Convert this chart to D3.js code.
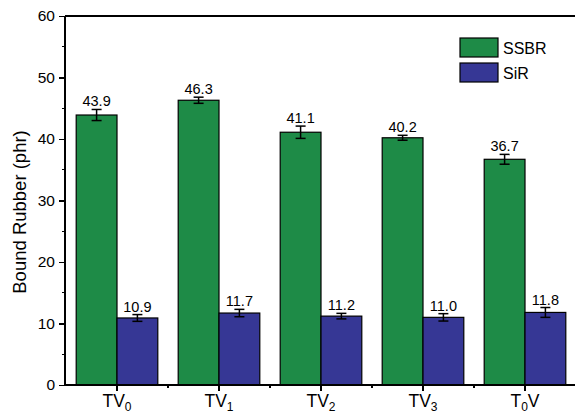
<!DOCTYPE html>
<meta charset="utf-8">
<style>
  body { margin: 0; background: #fff; }
  text { font-family: Arial, "Liberation Sans", sans-serif; fill: #000; }
  .axis path, .axis line { stroke: #000; stroke-width: 1.2px; shape-rendering: crispEdges; }
</style>
<body>
<script src="https://d3js.org/d3.v7.min.js"></script>
<script>

  var categories = ["TV0", "TV1", "TV2", "TV3", "T0V"];
  var labelMain = ["TV", "TV", "TV", "TV", "T"];
  var labelSub = ["0", "1", "2", "3", "0"];
  var labelTail = ["", "", "", "", "V"];
  var series = ["SSBR", "SiR"];
  var ssbr = [43.9, 46.3, 41.1, 40.2, 36.7];
  var ssbrErr = [0.9, 0.5, 1.0, 0.4, 0.8];
  var sir = [10.9, 11.7, 11.2, 11.0, 11.8];
  var sirErr = [0.55, 0.6, 0.45, 0.6, 0.8];
  var colors = ["#1e8b47", "#363795"];
  var yTicks = [0, 10, 20, 30, 40, 50, 60];

  var width = 575, height = 414;
  var margin = { top: 16, left: 65, bottom: 29 };
  var plotRight = 576;

  var svg = d3.select("body").append("svg")
      .attr("width", width)
      .attr("height", height);

  var x = d3.scaleLinear().domain([0.5, 5.5]).range([margin.left + 1, plotRight]);
  var y = d3.scaleLinear().domain([0, 60]).range([height - margin.bottom, margin.top]);
  var bw = x(0.4) - x(0);

  var groups = [
    { vals: ssbr, errs: ssbrErr, off: -1 },
    { vals: sir, errs: sirErr, off: 0 }
  ];

  groups.forEach(function(g, gi) {
    var sel = svg.append("g");
    sel.selectAll("rect")
        .data(g.vals)
      .enter().append("rect")
        .attr("x", function(d, i) { return x(i + 1) + g.off * bw; })
        .attr("y", function(d) { return y(d); })
        .attr("width", bw)
        .attr("height", function(d) { return y(0) - y(d); })
        .attr("fill", colors[gi])
        .attr("stroke", "#000")
        .attr("stroke-width", 1.2);

    // error bars
    g.vals.forEach(function(d, i) {
      var cx = x(i + 1) + g.off * bw + bw / 2;
      var e = g.errs[i];
      sel.append("line")
          .attr("x1", cx).attr("x2", cx)
          .attr("y1", y(d + e)).attr("y2", y(d - e))
          .attr("stroke", "#000").attr("stroke-width", 1.5);
      [d + e, d - e].forEach(function(v) {
        sel.append("line")
            .attr("x1", cx - 5).attr("x2", cx + 5)
            .attr("y1", y(v)).attr("y2", y(v))
            .attr("stroke", "#000").attr("stroke-width", 1.5);
      });
      sel.append("text")
          .attr("x", cx)
          .attr("y", y(d + e) - 3)
          .attr("text-anchor", "middle")
          .style("font-size", "14.5px")
          .text(d.toFixed(1));
    });
  });

  // y axis
  var yAxis = d3.axisLeft(y).tickValues(yTicks).tickSize(6).tickPadding(4).tickFormat(d3.format("d"));
  var ya = svg.append("g")
      .attr("class", "axis")
      .attr("transform", "translate(" + margin.left + ",0)")
      .call(yAxis);
  ya.select(".domain").remove();
  ya.selectAll("text").style("font-size", "15.5px");
  svg.append("g").attr("class", "axis").selectAll("line")
      .data(d3.range(5, 60, 10))
    .enter().append("line")
      .attr("x1", margin.left - 3).attr("x2", margin.left)
      .attr("y1", function(d) { return y(d); }).attr("y2", function(d) { return y(d); });

  // frame lines
  var frame = svg.append("g").attr("class", "axis");
  frame.append("line").attr("x1", margin.left).attr("x2", margin.left).attr("y1", y(60)).attr("y2", y(0));
  frame.append("line").attr("x1", margin.left).attr("x2", plotRight).attr("y1", y(60)).attr("y2", y(60));
  frame.append("line").attr("x1", margin.left).attr("x2", plotRight).attr("y1", y(0)).attr("y2", y(0));

  // x ticks
  frame.selectAll(".xmaj")
      .data(categories)
    .enter().append("line")
      .attr("x1", function(d, i) { return x(i + 1); })
      .attr("x2", function(d, i) { return x(i + 1); })
      .attr("y1", y(0)).attr("y2", y(0) + 6);
  frame.selectAll(".xmin")
      .data(categories)
    .enter().append("line")
      .attr("x1", function(d, i) { return x(i + 1.5); })
      .attr("x2", function(d, i) { return x(i + 1.5); })
      .attr("y1", y(0)).attr("y2", y(0) + 3);

  // x labels with subscripts
  categories.forEach(function(c, i) {
    var t = svg.append("text")
        .attr("x", x(i + 1))
        .attr("y", y(0) + 22)
        .attr("text-anchor", "middle")
        .style("font-size", "17.5px");
    t.append("tspan").text(labelMain[i]);
    t.append("tspan").attr("dy", 4).style("font-size", "12px").text(labelSub[i]);
    if (labelTail[i]) t.append("tspan").attr("dy", -4).text(labelTail[i]);
  });

  // y title
  svg.append("text")
      .attr("transform", "translate(26," + 212 + ") rotate(-90)")
      .attr("text-anchor", "middle")
      .style("font-size", "18.5px")
      .text("Bound Rubber (phr)");

  // legend
  var legend = svg.append("g").attr("transform", "translate(460,38)");
  series.forEach(function(s, i) {
    legend.append("rect")
        .attr("x", 0).attr("y", i * 25)
        .attr("width", 38).attr("height", 19)
        .attr("fill", colors[i])
        .attr("stroke", "#000").attr("stroke-width", 1.2);
    legend.append("text")
        .attr("x", 43).attr("y", i * 25 + 15.5)
        .style("font-size", "16px")
        .text(s);
  });

</script>
